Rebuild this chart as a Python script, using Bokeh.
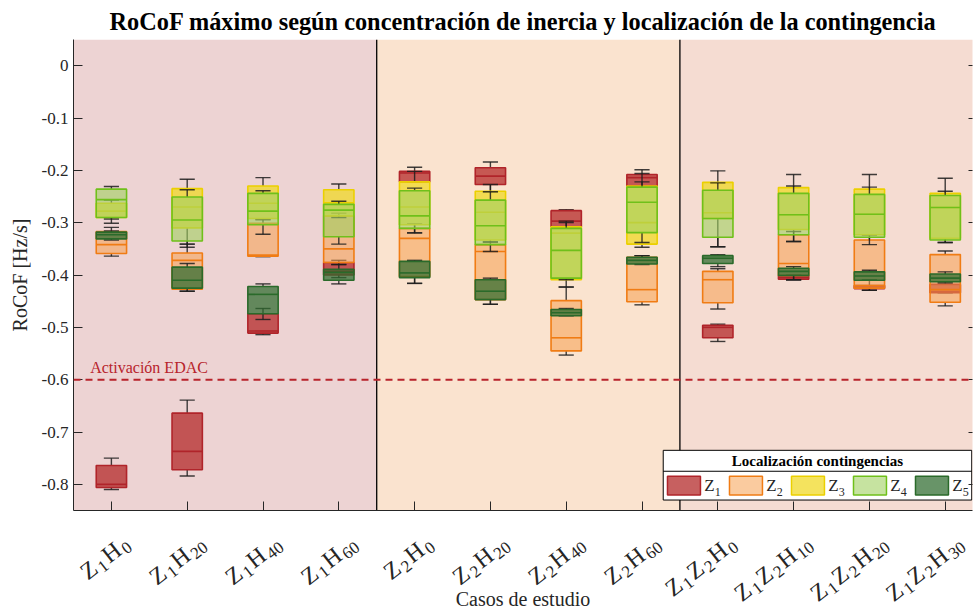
from math import cos, pi, sin

from bokeh.core.properties import value
from bokeh.embed import file_html
from bokeh.layouts import column
from bokeh.models import (BoxAnnotation, ColumnDataSource, FixedTicker, Label,
                          LinearAxis, Range1d, Span)
from bokeh.plotting import figure
from bokeh.resources import INLINE

# ---------------------------------------------------------------- data
cases = ["Z₁H₀", "Z₁H₂₀", "Z₁H₄₀", "Z₁H₆₀",
         "Z₂H₀", "Z₂H₂₀", "Z₂H₄₀", "Z₂H₆₀",
         "Z₁Z₂H₀", "Z₁Z₂H₁₀", "Z₁Z₂H₂₀", "Z₁Z₂H₃₀"]

zone_names = ["Z", "Z", "Z", "Z", "Z"]
zone_subs = ["1", "2", "3", "4", "5"]

# one row per case: lower whisker, Q1, median, Q3, upper whisker  [Hz/s]
z1_stats = [
    [-0.810, -0.806, -0.800, -0.764, -0.750],
    [-0.784, -0.772, -0.737, -0.664, -0.639],
    [-0.514, -0.511, -0.507, -0.474, -0.464],
    [-0.405, -0.400, -0.393, -0.376, -0.372],
    [-0.223, -0.222, -0.205, -0.202, -0.194],
    [-0.241, -0.227, -0.211, -0.195, -0.184],
    [-0.308, -0.308, -0.297, -0.277, -0.275],
    [-0.232, -0.230, -0.214, -0.208, -0.199],
    [-0.527, -0.520, -0.500, -0.496, -0.494],
    [-0.409, -0.408, -0.405, -0.401, -0.400],
    [-0.429, -0.426, -0.423, -0.420, -0.410],
    [-0.434, -0.434, -0.432, -0.418, -0.415],
]
z2_stats = [
    [-0.364, -0.359, -0.342, -0.317, -0.309],
    [-0.431, -0.427, -0.372, -0.358, -0.341],
    [-0.365, -0.364, -0.362, -0.301, -0.294],
    [-0.380, -0.376, -0.350, -0.287, -0.282],
    [-0.416, -0.403, -0.330, -0.311, -0.302],
    [-0.456, -0.447, -0.355, -0.342, -0.337],
    [-0.553, -0.545, -0.520, -0.449, -0.423],
    [-0.457, -0.451, -0.428, -0.366, -0.363],
    [-0.465, -0.453, -0.409, -0.393, -0.388],
    [-0.409, -0.401, -0.378, -0.323, -0.317],
    [-0.429, -0.425, -0.420, -0.333, -0.323],
    [-0.459, -0.452, -0.428, -0.361, -0.354],
]
z3_stats = [
    [-0.301, -0.290, -0.278, -0.263, -0.257],
    [-0.347, -0.310, -0.270, -0.235, -0.217],
    [-0.294, -0.292, -0.263, -0.230, -0.214],
    [-0.290, -0.287, -0.262, -0.237, -0.226],
    [-0.320, -0.304, -0.270, -0.222, -0.202],
    [-0.337, -0.333, -0.280, -0.240, -0.227],
    [-0.423, -0.409, -0.320, -0.308, -0.297],
    [-0.347, -0.341, -0.300, -0.230, -0.206],
    [-0.346, -0.292, -0.281, -0.223, -0.201],
    [-0.336, -0.313, -0.285, -0.233, -0.208],
    [-0.323, -0.323, -0.284, -0.236, -0.208],
    [-0.338, -0.330, -0.271, -0.244, -0.215],
]
z4_stats = [
    [-0.293, -0.290, -0.256, -0.236, -0.231],
    [-0.341, -0.335, -0.295, -0.251, -0.237],
    [-0.322, -0.304, -0.278, -0.244, -0.239],
    [-0.341, -0.327, -0.276, -0.265, -0.259],
    [-0.319, -0.311, -0.287, -0.239, -0.234],
    [-0.355, -0.342, -0.306, -0.257, -0.241],
    [-0.409, -0.406, -0.353, -0.311, -0.300],
    [-0.338, -0.319, -0.261, -0.232, -0.222],
    [-0.346, -0.328, -0.292, -0.238, -0.224],
    [-0.336, -0.323, -0.285, -0.244, -0.230],
    [-0.342, -0.328, -0.284, -0.246, -0.232],
    [-0.338, -0.333, -0.271, -0.248, -0.240],
]
z5_stats = [
    [-0.333, -0.331, -0.323, -0.318, -0.316],
    [-0.431, -0.425, -0.410, -0.385, -0.378],
    [-0.485, -0.474, -0.437, -0.422, -0.417],
    [-0.417, -0.410, -0.395, -0.389, -0.380],
    [-0.416, -0.405, -0.396, -0.374, -0.372],
    [-0.456, -0.447, -0.431, -0.409, -0.406],
    [-0.478, -0.478, -0.472, -0.466, -0.464],
    [-0.380, -0.379, -0.372, -0.366, -0.363],
    [-0.384, -0.378, -0.368, -0.363, -0.361],
    [-0.409, -0.401, -0.393, -0.387, -0.384],
    [-0.410, -0.410, -0.402, -0.394, -0.391],
    [-0.415, -0.413, -0.406, -0.398, -0.394],
]

zone_stats = [z1_stats, z2_stats, z3_stats, z4_stats, z5_stats]
zone_fill = ["#B22222", "#F5A050", "#F0D820", "#A0D060", "#2E6B2E"]
zone_edge = ["#B0242A", "#F07C14", "#EBD000", "#6FC01A", "#2A6A2A"]
zone_alpha = [0.72, 0.55, 0.72, 0.6, 0.72]

group_size = 4
group_colors = ["#EDD3D3", "#FAE3CF", "#F5DCD2"]

y_ticks = [0, -0.1, -0.2, -0.3, -0.4, -0.5, -0.6, -0.7, -0.8]
y_tick_labels = ["0", "-0.1", "-0.2", "-0.3", "-0.4", "-0.5", "-0.6", "-0.7", "-0.8"]
edac_threshold = -0.6

SERIF = "Liberation Serif"
INK = "#262626"
Y_MIN, Y_MAX = -0.85, 0.05

# ---------------------------------------------------------------- layout sizes
W = 976
TOP_H = 516          # chart figure; its frame ends 6 px above its bottom edge
AXIS_GAP = 6
BOTTOM_H = 610 - TOP_H
BORDER_L, BORDER_R = 73, 4

n = len(cases)
xs = list(range(1, n + 1))
x_range = Range1d(0.5, n + 0.36)

p = figure(width=W, height=TOP_H, x_range=x_range, y_range=Range1d(Y_MIN, Y_MAX),
           output_backend="svg", toolbar_location=None,
           min_border_left=BORDER_L, min_border_right=BORDER_R,
           min_border_top=37, min_border_bottom=AXIS_GAP)
p.outline_line_color = None
p.xgrid.visible = False
p.ygrid.visible = False
p.background_fill_color = "white"
p.border_fill_color = "white"

p.title.text = ("RoCoF máximo según concentración de inercia "
                "y localización de la contingencia")
p.title.align = "center"
p.title.text_font = SERIF
p.title.text_font_size = "24.3px"
p.title.text_font_style = "bold"
p.title.text_color = "black"

# shaded case groups with separators
n_groups = n // group_size
for g in range(n_groups):
    lo = g * group_size + 0.5
    hi = (g + 1) * group_size + 0.5
    p.add_layout(BoxAnnotation(left=lo, right=hi, fill_color=group_colors[g],
                               fill_alpha=1.0, line_color=None, level="underlay"))
    if g > 0:
        p.add_layout(Span(location=lo, dimension="height", line_color="black",
                          line_width=1.3, level="underlay"))

# EDAC activation threshold
p.add_layout(Span(location=edac_threshold, dimension="width", line_color="#B8232B",
                  line_width=2, line_dash="7 5"))
p.add_layout(Label(x=0.72, y=edac_threshold + 0.007, text="Activación EDAC",
                   text_font=SERIF, text_font_size="16px", text_color="#B8232B",
                   text_baseline="bottom"))

# box plots, all zones stacked at the same case position
box_w = 0.4
cap_w = 0.2
for k, stats in enumerate(zone_stats):
    src = ColumnDataSource(dict(
        x=xs,
        low=[r[0] for r in stats], q1=[r[1] for r in stats],
        med=[r[2] for r in stats], q3=[r[3] for r in stats],
        high=[r[4] for r in stats],
        cl=[x - cap_w / 2 for x in xs], cr=[x + cap_w / 2 for x in xs],
        ml=[x - box_w / 2 for x in xs], mr=[x + box_w / 2 for x in xs],
    ))
    for y0, y1 in (("low", "q1"), ("q3", "high")):
        p.segment(x0="x", y0=y0, x1="x", y1=y1, source=src,
                  line_color="#1E1E1E", line_width=1.4, line_alpha=0.85)
    for yc in ("low", "high"):
        p.segment(x0="cl", y0=yc, x1="cr", y1=yc, source=src,
                  line_color="#1E1E1E", line_width=1.4, line_alpha=0.85)
    p.vbar(x="x", width=box_w, bottom="q1", top="q3", source=src,
           fill_color=zone_fill[k], fill_alpha=zone_alpha[k],
           line_color=zone_edge[k], line_width=1.6)
    p.segment(x0="ml", y0="med", x1="mr", y1="med", source=src,
              line_color=zone_edge[k], line_width=1.6)

# ---------------------------------------------------------------- axes
p.xaxis.ticker = FixedTicker(ticks=xs)
# case names are drawn in the strip below, with real subscripts
p.xaxis.major_label_text_color = None
p.xaxis.major_label_text_font_size = "1px"
p.xaxis.major_label_standoff = 0

p.yaxis.ticker = FixedTicker(ticks=y_ticks)
p.yaxis.major_label_overrides = {t: s for t, s in zip(y_ticks, y_tick_labels)}
p.yaxis.axis_label = "RoCoF [Hz/s]"
p.yaxis.axis_label_standoff = 8
p.yaxis.major_label_text_font_size = "17px"
p.yaxis.major_label_text_color = INK

for ax in (p.xaxis[0], p.yaxis[0]):
    ax.major_tick_in = 9
    ax.major_tick_out = 0
    ax.minor_tick_line_color = None
    ax.axis_line_color = INK
    ax.major_tick_line_color = INK
    ax.major_label_text_font = SERIF
    ax.axis_label_text_font = SERIF
    ax.axis_label_text_font_size = "20px"
    ax.axis_label_text_font_style = "normal"
    ax.axis_label_text_color = INK

right_axis = LinearAxis(ticker=FixedTicker(ticks=y_ticks),
                        major_label_text_color=None, major_label_standoff=0,
                        major_label_text_font_size="1px",
                        major_tick_in=4, major_tick_out=0,
                        major_tick_line_color=INK, axis_line_color=None,
                        minor_tick_line_color=None)
p.add_layout(right_axis, "right")

# ---------------------------------------------------------------- legend
lg_left, lg_right = 8.28, 12.35
lg_top, lg_bottom, lg_split = -0.735, -0.830, -0.775
p.quad(left=[lg_left], right=[lg_right], top=[lg_top], bottom=[lg_bottom],
       fill_color="white", line_color="black", line_width=1)
p.segment(x0=[lg_left], x1=[lg_right], y0=[lg_split], y1=[lg_split],
          line_color="black", line_width=1)
p.text(x=[(lg_left + lg_right) / 2], y=[(lg_top + lg_split) / 2],
       text=["Localización contingencias"], text_font=value(SERIF),
       text_font_size="15px", text_font_style="bold", text_color="black",
       text_align="center", text_baseline="middle")

sw_x0, sw_step, sw_w = 8.336, 0.818, 0.435
sw_top, sw_bot = -0.7845, -0.8204
sw_mid = (sw_top + sw_bot) / 2
for k in range(len(zone_stats)):
    x0 = sw_x0 + k * sw_step
    p.quad(left=[x0], right=[x0 + sw_w], top=[sw_top], bottom=[sw_bot],
           fill_color=zone_fill[k], fill_alpha=zone_alpha[k],
           line_color=zone_edge[k], line_width=1.5)
    p.text(x=[x0 + sw_w + 0.05], y=[sw_mid],
           text=[zone_names[k]], text_font=value(SERIF), text_font_size="17px",
           text_color=INK, text_baseline="middle")
    p.text(x=[x0 + sw_w + 0.19], y=[sw_mid - 0.012],
           text=[zone_subs[k]], text_font=value(SERIF), text_font_size="12px",
           text_color=INK, text_baseline="middle")

# ---------------------------------------------------------------- case labels strip
# y in this strip is measured in pixels, 0 at its top edge, negative downwards
strip = figure(width=W, height=BOTTOM_H, x_range=x_range,
               y_range=Range1d(-BOTTOM_H, 0), x_axis_type=None, y_axis_type=None,
               output_backend="svg", toolbar_location=None,
               min_border_left=BORDER_L, min_border_right=BORDER_R,
               min_border_top=0, min_border_bottom=0)
strip.outline_line_color = None
strip.background_fill_color = "white"
strip.border_fill_color = "white"
strip.grid.visible = False

SUB_DIGITS = "₀₁₂₃₄₅₆₇₈₉"
GLYPH_EM = {"Z": 0.611, "H": 0.722}
big_px, small_px = 24, 17
tick_angle = 38 * pi / 180
ux, uy = cos(tick_angle), sin(tick_angle)
end_dx, end_dy = 15, -30      # end of each label relative to its tick at the axis (px)
gap = 2
sub_drop = 6


def split_label(text):
    parts = []
    for ch in text:
        if ch in SUB_DIGITS:
            d = str(SUB_DIGITS.index(ch))
            if parts and parts[-1][1]:
                parts[-1] = (parts[-1][0] + d, True)
            else:
                parts.append((d, True))
        else:
            parts.append((ch, False))
    return parts


for x, case in zip(xs, cases):
    parts = split_label(case)
    widths = [len(t) * 0.5 * small_px if sub else GLYPH_EM.get(t, 0.6) * big_px
              for t, sub in parts]
    total = sum(widths) + gap * (len(parts) - 1)
    sx, sy = end_dx - total * ux, end_dy - total * uy
    run = 0.0
    for (t, sub), w in zip(parts, widths):
        ox, oy = sx + run * ux, sy + run * uy
        if sub:
            ox += sub_drop * uy
            oy -= sub_drop * ux
        strip.add_layout(Label(x=x, y=oy + AXIS_GAP, x_offset=ox, text=t,
                               angle=tick_angle, angle_units="rad",
                               text_align="left", text_baseline="alphabetic",
                               text_font=SERIF, text_color=INK,
                               text_font_size=f"{small_px if sub else big_px}px"))
        run += w + gap

strip.text(x=[(x_range.start + x_range.end) / 2], y=[-(598 - TOP_H)],
           text=["Casos de estudio"], text_align="center", text_baseline="middle",
           text_font=value(SERIF), text_font_size="20px", text_color=INK)

layout = column(p, strip, spacing=0)
open("out.html", "w").write(file_html(layout, INLINE))
